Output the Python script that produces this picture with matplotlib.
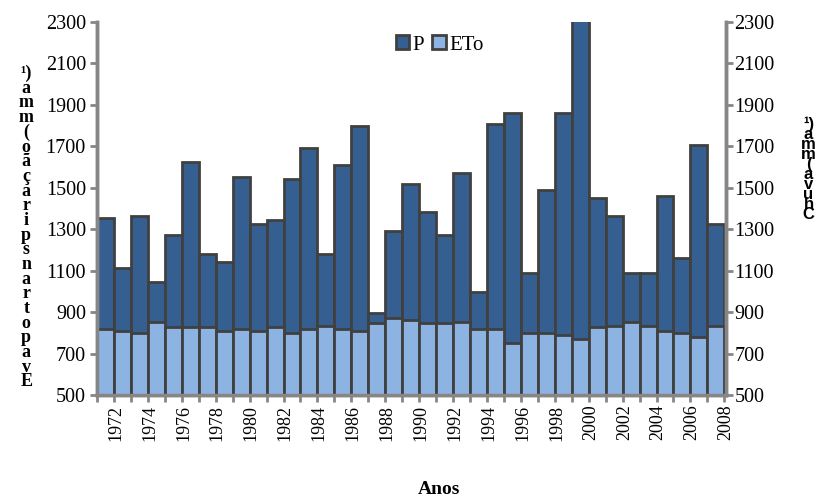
import numpy as np
import matplotlib
matplotlib.use("Agg")
import matplotlib.pyplot as plt

# anos 1972 - 2008
anos = list(range(1972, 2009))

# precipitacao (P) e evapotranspiracao (ETo), mm/ano
P = [1352, 1114, 1363, 1046, 1271, 1625, 1180, 1140, 1553, 1323,
     1344, 1541, 1692, 1180, 1609, 1797, 897, 1292, 1517, 1381,
     1271, 1569, 995, 1807, 1861, 1087, 1488, 1861, 2310, 1451,
     1363, 1087, 1087, 1461, 1162, 1705, 1323]
ETo = [817, 809, 801, 854, 826, 826, 826, 810, 817, 810,
       826, 801, 817, 833, 817, 810, 846, 870, 862, 846,
       846, 854, 817, 817, 749, 801, 801, 789, 770, 826,
       833, 854, 833, 810, 801, 781, 834]

yticks = [500, 700, 900, 1100, 1300, 1500, 1700, 1900, 2100, 2300]

cor_p = "#365f91"
cor_eto = "#8db3e2"
borda = "#404040"
cinza = "#868686"

plt.rcParams['font.family'] = ['Liberation Serif', 'DejaVu Serif']

fig = plt.figure(figsize=(8.2, 5), dpi=100)
ax = fig.add_axes([0.1183, 0.21, 0.7671, 0.746])

x = np.arange(len(anos))
ax.bar(x, P, width=1.0, color=cor_p, edgecolor=borda, linewidth=2, label="P", zorder=2)
ax.bar(x, ETo, width=1.0, color=cor_eto, edgecolor=borda, linewidth=2, label="ETo", zorder=3)

ax.set_xlim(-0.5, len(anos) - 0.5)
ax.set_ylim(500, 2300)
ax.set_yticks(yticks)
ax.tick_params(axis='y', labelsize=14.5, color=cinza, length=5, width=2, pad=3)

# marcas entre categorias, rotulos a cada 2 anos
ax.set_xticks(np.arange(-0.5, len(anos), 1.0))
ax.set_xticklabels([])
ax.set_xticks(x[::2] + 0.6, minor=True)
ax.set_xticklabels([str(a) for a in anos[::2]], minor=True, rotation=90, fontsize=13)
ax.tick_params(axis='x', which='major', color=cinza, length=5, width=2)
ax.tick_params(axis='x', which='minor', length=0, pad=7)

for s in ['left', 'bottom', 'right']:
    ax.spines[s].set_color(cinza)
    ax.spines[s].set_linewidth(2.5)
ax.spines['top'].set_visible(False)

ax2 = ax.twinx()
ax2.set_ylim(500, 2300)
ax2.set_yticks(yticks)
ax2.tick_params(axis='y', labelsize=14.5, color=cinza, length=5, width=2, pad=1)
for s in ['left', 'bottom', 'right']:
    ax2.spines[s].set_color(cinza)
    ax2.spines[s].set_linewidth(2.5)
ax2.spines['top'].set_visible(False)

ax.legend(loc='center', bbox_to_anchor=(0.536, 0.91), bbox_transform=fig.transFigure,
          ncol=2, frameon=False, fontsize=15, handlelength=0.65, handleheight=0.65,
          handletextpad=0.15, columnspacing=0.4, borderpad=0.2)

# rotulos dos eixos empilhados (como no original)
rot_esq = "¹)\n" + "\n".join(reversed(list("Evapotranspiração(mma")))
fig.text(0.032, 0.545, rot_esq, ha='center', va='center', fontsize=13,
         fontweight='bold', linespacing=0.82, multialignment='center')

rot_dir = "¹)\n" + "\n".join(reversed(list("Chuva(mma")))
fig.text(0.986, 0.662, rot_dir, ha='center', va='center', fontsize=12,
         fontweight='bold', linespacing=0.58, multialignment='center',
         family=['Liberation Sans', 'DejaVu Sans'])

fig.text(0.535, 0.003, "Anos", ha='center', va='bottom', fontsize=14, fontweight='bold')

fig.savefig("out.png", dpi=100)
